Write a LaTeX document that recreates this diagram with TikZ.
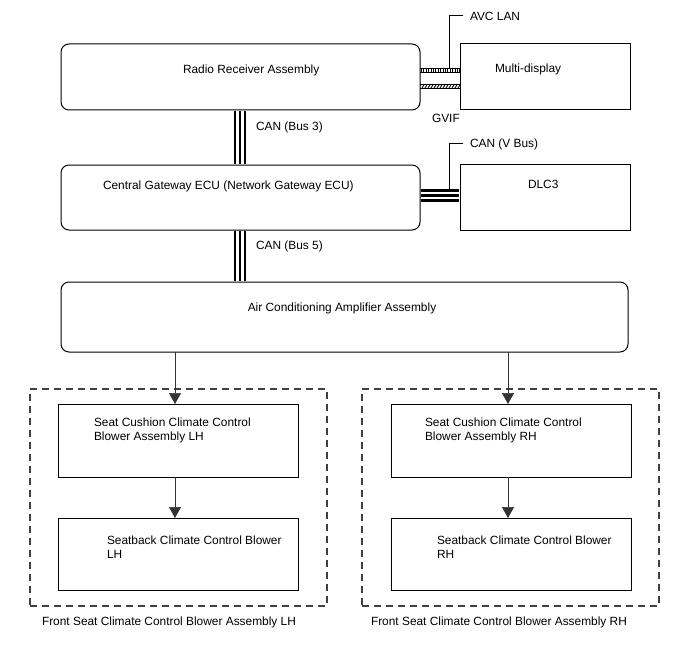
\documentclass[tikz,border=0pt]{standalone}
\usepackage{fontspec}
\setmainfont{Liberation Sans}
\usetikzlibrary{arrows.meta,calc}
\begin{document}
\begin{tikzpicture}[x=1pt,y=-1pt,
  every node/.style={font=\fontsize{11.9}{14}\selectfont, inner sep=0pt, outer sep=0pt},
  box/.style={draw, line width=1pt, rectangle},
  rbox/.style={box, rounded corners=8pt},
  txt/.style={anchor=west, align=left},
  arr/.style={line width=0.7pt, draw=black!80, -{Triangle[width=12pt,length=11pt]}},
  grp/.style={draw=black!75, line width=1.5pt, dash pattern=on 7pt off 5pt},
  leader/.style={line width=1pt},
  busout/.style={line width=12.5pt, shorten <=0.6pt, shorten >=0.6pt},
  busmid/.style={line width=7.5pt, white, shorten <=0.6pt, shorten >=0.6pt},
  busin/.style={line width=2.8pt, shorten <=0.6pt, shorten >=0.6pt}]
\useasboundingbox (0,0) rectangle (688,658);

% boxes
\node[rbox, minimum width=359pt, minimum height=66pt] (rr) at (240.5,77) {};
\node[box,  minimum width=170pt, minimum height=66pt] (md) at (545,77) {};
\node[rbox, minimum width=359pt, minimum height=65pt] (gw) at (240.5,197.5) {};
\node[box,  minimum width=170pt, minimum height=66pt] (dlc) at (545,197) {};
\node[rbox, minimum width=567pt, minimum height=70pt] (ac) at (344.5,317) {};

\node[grp, minimum width=297pt, minimum height=217pt] (grpL) at (178.5,497.5) {};
\node[grp, minimum width=297pt, minimum height=217pt] (grpR) at (510.5,497.5) {};

\node[box, minimum width=240pt, minimum height=73pt] (cL) at (178,440.5) {};
\node[box, minimum width=240pt, minimum height=72pt] (sL) at (178,554) {};
\node[box, minimum width=240pt, minimum height=73pt] (cR) at (511,440.5) {};
\node[box, minimum width=240pt, minimum height=72pt] (sR) at (511,554) {};

% texts
\node[txt] (trr) at (183,70) {Radio Receiver Assembly};
\node[txt] (tmd) at (495,69) {Multi-display};
\node[txt] (tgw) at (103,186) {Central Gateway ECU (Network Gateway ECU)};
\node[txt] (tdlc) at (528,184) {DLC3};
\node (tac) at (342,308) {Air Conditioning Amplifier Assembly};
\node[txt] (tcL) at (94,430) {Seat Cushion Climate Control\\Blower Assembly LH};
\node[txt] (tsL) at (107,547) {Seatback Climate Control Blower\\LH};
\node[txt] (tcR) at (425,430) {Seat Cushion Climate Control\\Blower Assembly RH};
\node[txt] (tsR) at (437,547) {Seatback Climate Control Blower\\RH};
\node[txt] (lgL) at (42,622) {Front Seat Climate Control Blower Assembly LH};
\node[txt] (lgR) at (371,622) {Front Seat Climate Control Blower Assembly RH};

% bus labels
\node[txt] (b3) at (256,127) {CAN (Bus 3)};
\node[txt] (b5) at (256,246) {CAN (Bus 5)};
\node[txt] (avc) at (470,16) {AVC LAN};
\node[txt] (vbus) at (470,144) {CAN (V Bus)};
\node[txt] (gvif) at (432,118) {GVIF};

% vertical CAN buses
\coordinate (bx) at (240,0);
\foreach \s in {busout,busmid,busin}{
  \draw[\s] (rr.south -| bx) -- (gw.north -| bx);
  \draw[\s] (gw.south -| bx) -- (ac.north -| bx);
}
% V bus
\coordinate (vy) at (0,195.5);
\foreach \s in {busout,busmid,busin}{
  \draw[\s] (gw.east |- vy) -- (dlc.west |- vy);
}
\draw[leader] (449,191) |- ([xshift=-7pt]vbus.west);

% AVC LAN ladder
\coordinate (av1) at (0,68);
\coordinate (av2) at (0,72);
\coordinate (avm) at (0,70);
\draw[line width=0.9pt] (rr.east |- av1) -- (md.west |- av1);
\draw[line width=0.9pt] (rr.east |- av2) -- (md.west |- av2);
\draw[line width=4pt, dash pattern=on 0.9pt off 1.5pt] ([xshift=1pt]rr.east |- avm) -- (md.west |- avm);
\draw[leader] (449,68) |- ([xshift=-7pt]avc.west);

% GVIF hatch
\coordinate (gv1) at (0,84);
\coordinate (gv2) at (0,88);
\draw[line width=0.9pt] (rr.east |- gv1) -- (md.west |- gv1);
\draw[line width=0.9pt] (rr.east |- gv2) -- (md.west |- gv2);
\begin{scope}
\clip (420.5,84) rectangle (460,88);
\foreach \x in {419,422,...,461}{
  \draw[line width=0.9pt] (\x,88) -- (\x+2.5,84);
}
\end{scope}

% arrows
\coordinate (axL) at (175,0);
\coordinate (axR) at (508,0);
\draw[arr] (ac.south -| axL) -- (cL.north -| axL);
\draw[arr] (ac.south -| axR) -- (cR.north -| axR);
\draw[arr] (cL.south -| axL) -- (sL.north -| axL);
\draw[arr] (cR.south -| axR) -- (sR.north -| axR);
\end{tikzpicture}
\end{document}
